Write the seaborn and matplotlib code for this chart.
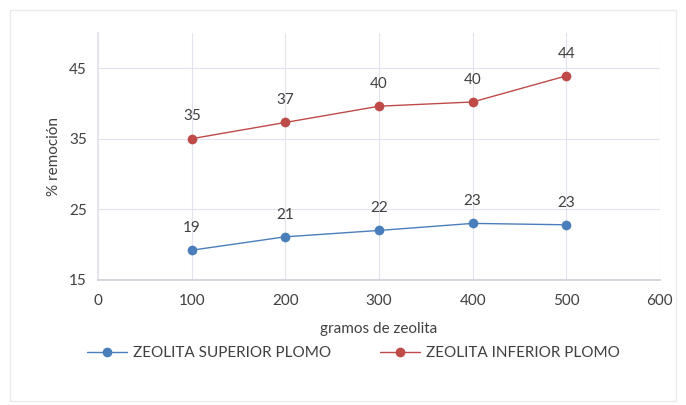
import pandas as pd
import matplotlib.pyplot as plt
import seaborn as sns

# Data
gramos = [100, 200, 300, 400, 500]
superior = [19.2, 21.1, 22.0, 23.0, 22.8]
inferior = [35.0, 37.3, 39.6, 40.2, 43.9]
series_names = ["ZEOLITA SUPERIOR PLOMO", "ZEOLITA INFERIOR PLOMO"]
x_ticks = [0, 100, 200, 300, 400, 500, 600]
y_ticks = [15, 25, 35, 45]

df = pd.DataFrame({
    "gramos": gramos * 2,
    "remocion": superior + inferior,
    "serie": [series_names[0]] * 5 + [series_names[1]] * 5,
})

sns.set_theme(style="white")
plt.rcParams['font.family'] = ['Lato', 'DejaVu Sans']

colors = {series_names[0]: "#4A7EBB", series_names[1]: "#BE4B48"}

fig = plt.figure(figsize=(6.86, 4.05), dpi=100)
ax = fig.add_axes([0.143, 0.309, 0.819, 0.61])

sns.lineplot(data=df, x="gramos", y="remocion", hue="serie", palette=colors,
             marker="o", markersize=7, markeredgewidth=0, linewidth=1.0, ax=ax)

# Data labels above each point
for s, vals in zip(series_names, [superior, inferior]):
    for xv, yv in zip(gramos, vals):
        ax.annotate(f"{yv:.0f}", (xv, yv), textcoords="offset points", xytext=(0, 11),
                    ha="center", va="bottom", fontsize=11, color="#404040")

ax.set_xlim(0, 600)
ax.set_ylim(15, 50)
ax.set_xticks(x_ticks)
ax.set_yticks(y_ticks)
ax.grid(True, color="#E3E3EE", linewidth=0.8)
for side in ["top", "right"]:
    ax.spines[side].set_visible(False)
ax.spines["left"].set_color("#E3E3EE")
ax.spines["bottom"].set_color("#D0D0DA")
ax.tick_params(axis="x", length=0, labelsize=11, colors="#404040", pad=10)
ax.tick_params(axis="y", length=0, labelsize=11, colors="#404040", pad=8)
ax.set_xlabel("gramos de zeolita", fontsize=11, color="#404040", labelpad=10)
ax.set_ylabel("% remoción", fontsize=11, color="#404040", labelpad=6)

handles, labels = ax.get_legend_handles_labels()
ax.get_legend().remove()
fig.legend(handles, labels, loc="center", bbox_to_anchor=(0.515, 0.128),
           ncol=2, frameon=False, fontsize=11, labelcolor="#404040",
           handlelength=2.6, handletextpad=0.4, columnspacing=3.2)

# Faint frame around chart
fig.patches.append(plt.Rectangle((0.015, 0.01), 0.97, 0.965, transform=fig.transFigure,
                                 fill=False, edgecolor="#EBEBEB", linewidth=1))

plt.savefig("out.png", dpi=100)
